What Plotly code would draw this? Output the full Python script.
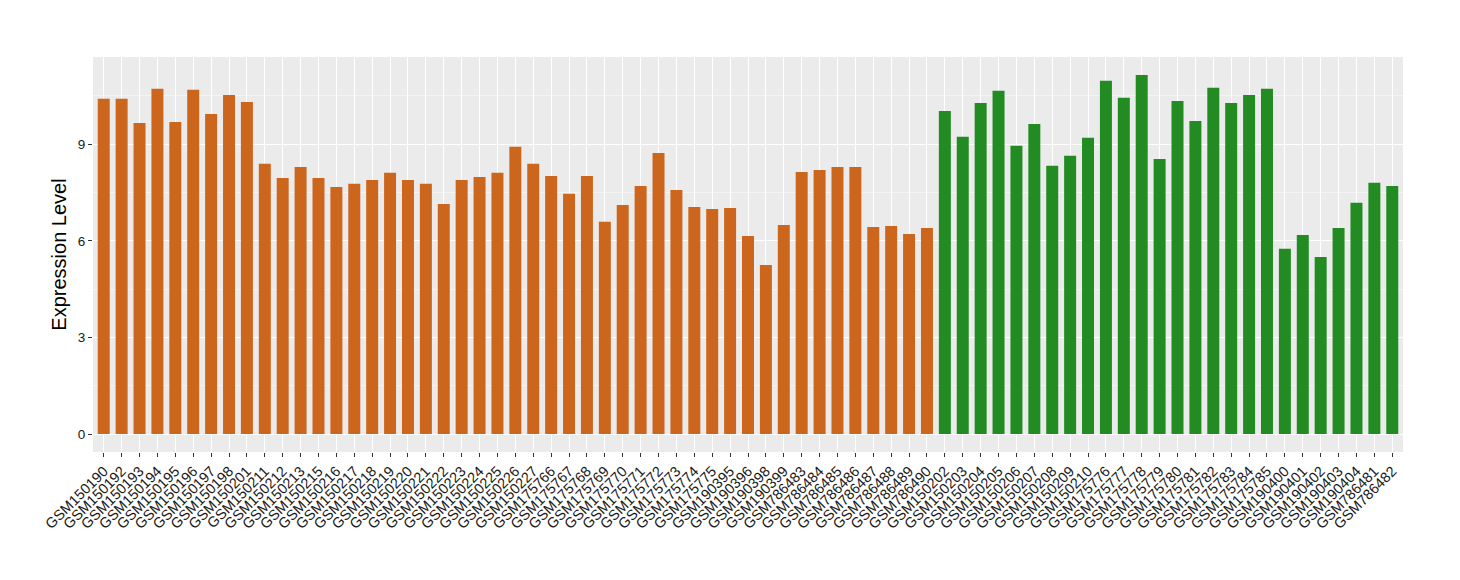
import plotly.graph_objects as go

orange_samples = [
    "GSM150190", "GSM150192", "GSM150193", "GSM150194", "GSM150195", "GSM150196",
    "GSM150197", "GSM150198", "GSM150201", "GSM150211", "GSM150212", "GSM150213",
    "GSM150215", "GSM150216", "GSM150217", "GSM150218", "GSM150219", "GSM150220",
    "GSM150221", "GSM150222", "GSM150223", "GSM150224", "GSM150225", "GSM150226",
    "GSM150227", "GSM175766", "GSM175767", "GSM175768", "GSM175769", "GSM175770",
    "GSM175771", "GSM175772", "GSM175773", "GSM175774", "GSM175775", "GSM190395",
    "GSM190396", "GSM190398", "GSM190399", "GSM786483", "GSM786484", "GSM786485",
    "GSM786486", "GSM786487", "GSM786488", "GSM786489", "GSM786490",
]
orange_values = [
    10.41, 10.41, 9.66, 10.72, 9.69, 10.69, 9.94, 10.53, 10.31, 8.39, 7.95, 8.29,
    7.95, 7.67, 7.77, 7.89, 8.11, 7.89, 7.77, 7.14, 7.89, 7.98, 8.11, 8.92,
    8.39, 8.01, 7.46, 8.01, 6.59, 7.11, 7.70, 8.73, 7.58, 7.05, 6.99, 7.02,
    6.15, 5.25, 6.49, 8.14, 8.20, 8.29, 8.29, 6.43, 6.46, 6.21, 6.40,
]
green_samples = [
    "GSM150202", "GSM150203", "GSM150204", "GSM150205", "GSM150206", "GSM150207",
    "GSM150208", "GSM150209", "GSM150210", "GSM175776", "GSM175777", "GSM175778",
    "GSM175779", "GSM175780", "GSM175781", "GSM175782", "GSM175783", "GSM175784",
    "GSM175785", "GSM190400", "GSM190401", "GSM190402", "GSM190403", "GSM190404",
    "GSM786481", "GSM786482",
]
green_values = [
    10.03, 9.23, 10.28, 10.66, 8.95, 9.63, 8.33, 8.64, 9.20, 10.97, 10.44, 11.15,
    8.54, 10.34, 9.72, 10.75, 10.28, 10.53, 10.72, 5.75, 6.18, 5.50, 6.40, 7.18,
    7.80, 7.70,
]
y_ticks = [0, 3, 6, 9]

all_samples = orange_samples + green_samples

fig = go.Figure()
fig.add_trace(go.Bar(x=orange_samples, y=orange_values, marker_color="#CD661D",
                     marker_line_width=0, width=0.67, showlegend=False))
fig.add_trace(go.Bar(x=green_samples, y=green_values, marker_color="#228B22",
                     marker_line_width=0, width=0.67, showlegend=False))

ymax = max(orange_values + green_values)
fig.update_layout(
    width=1460, height=580,
    barmode="overlay",
    paper_bgcolor="white",
    plot_bgcolor="#EBEBEB",
    margin=dict(l=85, r=65, t=49, b=136, autoexpand=False),
    font=dict(family="Liberation Sans, Arial, sans-serif", color="#1A1A1A"),
    xaxis=dict(
        type="category",
        categoryorder="array",
        categoryarray=all_samples,
        tickmode="array",
        tickvals=all_samples,
        ticktext=all_samples,
        range=[-0.6, len(all_samples) - 0.4],
        tickangle=-45,
        tickfont=dict(size=14.5, color="#1A1A1A"),
        showgrid=True, gridcolor="white", gridwidth=1.1,
        ticks="outside", ticklen=4, tickcolor="#333333", tickwidth=1,
        zeroline=False, showline=False,
        automargin=False,
    ),
    yaxis=dict(
        title=dict(text="Expression Level", font=dict(size=20, color="#000000"), standoff=5),
        range=[-0.05 * ymax, 1.05 * ymax],
        tickvals=y_ticks,
        tickfont=dict(size=13.5, color="#1A1A1A"),
        showgrid=True, gridcolor="white", gridwidth=1.1,
        minor=dict(dtick=1.5, tick0=0, showgrid=True, gridcolor="#F5F5F5", gridwidth=0.6),
        ticks="outside", ticklen=4, tickcolor="#333333", tickwidth=1,
        zeroline=False, showline=False,
        automargin=False,
    ),
)

fig.write_html("out.html")
